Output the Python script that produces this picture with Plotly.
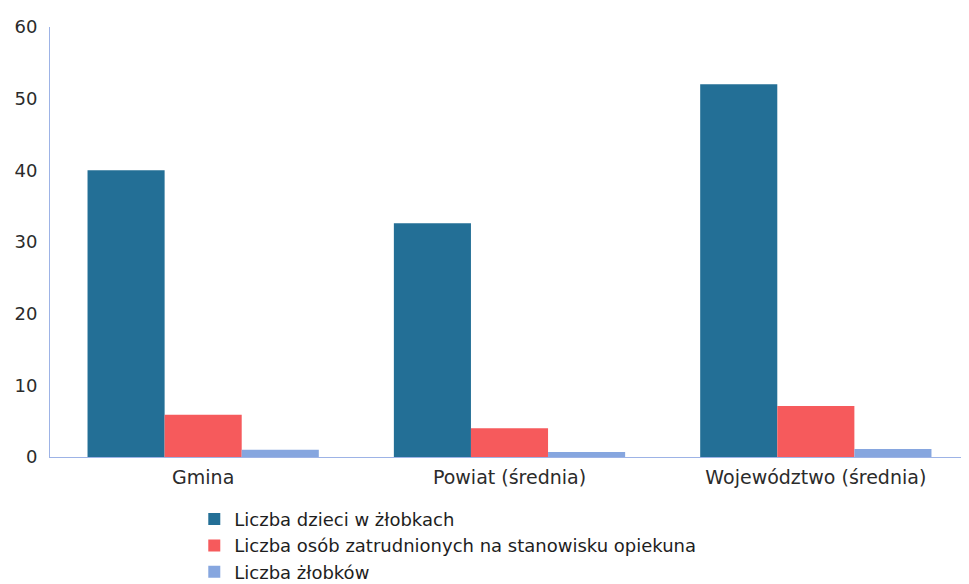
import plotly.graph_objects as go

categories = ["Gmina", "Powiat (średnia)", "Województwo (średnia)"]
dzieci = [40, 32.6, 52]
opiekunowie = [5.9, 4.0, 7.1]
zlobki = [1, 0.7, 1.1]
series_names = ["Liczba dzieci w żłobkach",
                "Liczba osób zatrudnionych na stanowisku opiekuna",
                "Liczba żłobków"]
y_ticks = [0, 10, 20, 30, 40, 50, 60]

fig = go.Figure()
fig.add_trace(go.Bar(x=categories, y=dzieci, name=series_names[0],
                     marker=dict(color="#236f96", line=dict(width=0))))
fig.add_trace(go.Bar(x=categories, y=opiekunowie, name=series_names[1],
                     marker=dict(color="#f65a5c", line=dict(width=0))))
fig.add_trace(go.Bar(x=categories, y=zlobki, name=series_names[2],
                     marker=dict(color="#86a6df", line=dict(width=0))))

fig.update_layout(
    width=961, height=576,
    barmode="group", bargap=0.245, bargroupgap=0,
    paper_bgcolor="white", plot_bgcolor="white",
    margin=dict(l=42, r=0, t=19, b=127, autoexpand=False),
    font=dict(family="DejaVu Sans, Verdana, sans-serif", size=17, color="#2b2b2b"),
    showlegend=True,
    legend=dict(orientation="v", x=0.157, y=-0.102, xanchor="left", yanchor="top",
                font=dict(size=18, color="#1e1e1e"), itemsizing="constant",
                tracegroupgap=0, bgcolor="rgba(0,0,0,0)"),
    xaxis=dict(showgrid=False, showline=True, linecolor="#9db3e6", linewidth=1,
               ticks="", automargin=False, ticklabelstandoff=3,
               tickfont=dict(size=19, color="#2b2b2b")),
    yaxis=dict(range=[0, 60], tickvals=y_ticks, showgrid=False, showline=True,
               linecolor="#9db3e6", linewidth=1, ticks="", zeroline=False,
               automargin=False, ticklabelstandoff=8,
               tickfont=dict(size=18, color="#2b2b2b")),
)

fig.write_html("out.html")
